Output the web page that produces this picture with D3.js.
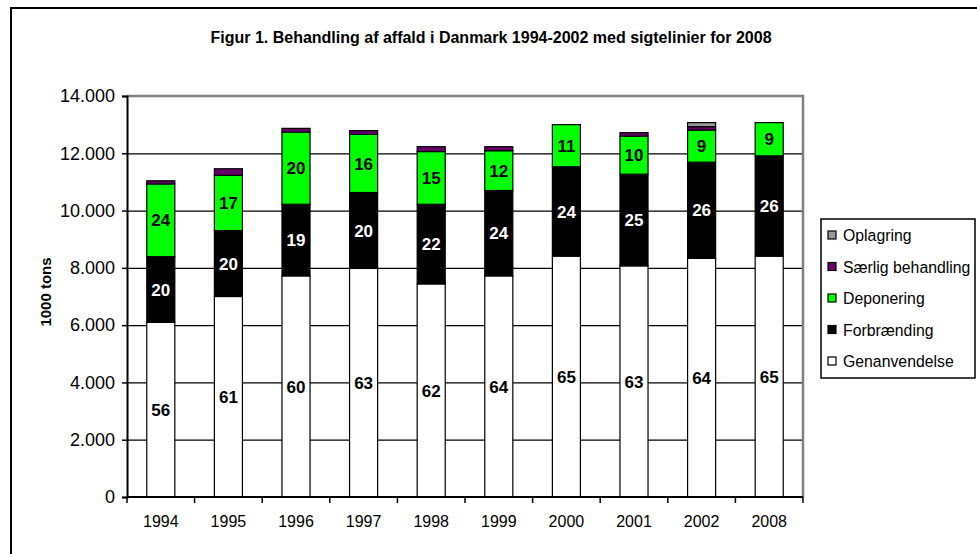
<!DOCTYPE html>
<html>
<head>
<meta charset="utf-8">
<script src="https://cdn.jsdelivr.net/npm/d3@7"></script>
<style>
  body { margin: 0; background: #fff; }
  svg { display: block; font-family: Arial, "Liberation Sans", sans-serif; }
</style>
</head>
<body>
<svg id="chart"></svg>
<script>
// years on the x axis
const years = ["1994", "1995", "1996", "1997", "1998", "1999", "2000", "2001", "2002", "2008"];

// 1000 tons per treatment
const genanvendelse = [6100, 7000, 7720, 7980, 7440, 7720, 8410, 8070, 8330, 8410];
const forbraending = [2290, 2300, 2500, 2650, 2780, 2980, 3120, 3200, 3360, 3500];
const deponering = [2540, 1930, 2520, 2030, 1840, 1390, 1470, 1330, 1120, 1160];
const saerlig = [110, 230, 130, 130, 170, 140, 0, 120, 120, 0];
const oplagring = [0, 0, 0, 0, 0, 0, 0, 0, 140, 0];

// percent labels printed in the segments
const pctGen = [56, 61, 60, 63, 62, 64, 65, 63, 64, 65];
const pctForb = [20, 20, 19, 20, 22, 24, 24, 25, 26, 26];
const pctDep = [24, 17, 20, 16, 15, 12, 11, 10, 9, 9];

const yTicks = [0, 2000, 4000, 6000, 8000, 10000, 12000, 14000];

const seriesNames = ["Genanvendelse", "Forbrænding", "Deponering", "Særlig behandling", "Oplagring"];
const seriesColors = ["#ffffff", "#000000", "#00ff00", "#660066", "#999999"];

const width = 977, height = 554;
const plot = { left: 127, top: 96, right: 803, bottom: 497 };

const svg = d3.select("#chart").attr("width", width).attr("height", height);

// outer frame (runs past the right and bottom edge)
svg.append("rect")
  .attr("x", 11).attr("y", 8)
  .attr("width", 1000).attr("height", 600)
  .attr("fill", "#fff").attr("stroke", "#000").attr("stroke-width", 2);

svg.append("text")
  .attr("x", 491).attr("y", 43)
  .attr("text-anchor", "middle")
  .attr("font-weight", "bold")
  .attr("font-size", 16)
  .text("Figur 1. Behandling af affald i Danmark 1994-2002 med sigtelinier for 2008");

const rows = years.map((yr, i) => ({
  year: yr,
  "Genanvendelse": genanvendelse[i],
  "Forbrænding": forbraending[i],
  "Deponering": deponering[i],
  "Særlig behandling": saerlig[i],
  "Oplagring": oplagring[i]
}));

const x = d3.scaleBand()
  .domain(years)
  .range([plot.left, plot.right])
  .paddingInner(0.585)
  .paddingOuter(0.2925);

const y = d3.scaleLinear()
  .domain([0, 14000])
  .range([plot.bottom, plot.top]);

const color = d3.scaleOrdinal().domain(seriesNames).range(seriesColors);

const dk = d3.formatLocale({ decimal: ",", thousands: ".", grouping: [3], currency: ["", ""] });
const fmt = dk.format(",");

// gridlines
svg.append("g")
  .attr("transform", `translate(${plot.left},0)`)
  .call(d3.axisLeft(y).tickValues(yTicks.slice(1)).tickSize(-(plot.right - plot.left)).tickFormat(""))
  .call(g => g.select(".domain").remove())
  .call(g => g.selectAll("line").attr("stroke", "#000").attr("stroke-width", 1.2));

// plot area border (gray on top and right)
svg.append("path")
  .attr("d", `M${plot.left},${plot.top}H${plot.right}V${plot.bottom}`)
  .attr("fill", "none")
  .attr("stroke", "#808080")
  .attr("stroke-width", 2.5);

const stacked = d3.stack().keys(seriesNames)(rows);

svg.append("g")
  .selectAll("g")
  .data(stacked)
  .join("g")
  .attr("fill", d => color(d.key))
  .selectAll("rect")
  .data(d => d.filter(s => s[1] > s[0]))
  .join("rect")
  .attr("x", d => x(d.data.year))
  .attr("width", x.bandwidth())
  .attr("y", d => y(d[1]))
  .attr("height", d => y(d[0]) - y(d[1]))
  .attr("stroke", "#000")
  .attr("stroke-width", 1.2);

// percent labels in the middle of the three main segments
const labelSets = [
  { idx: 0, vals: pctGen, fill: "#000" },
  { idx: 1, vals: pctForb, fill: "#fff" },
  { idx: 2, vals: pctDep, fill: "#000" }
];
labelSets.forEach(ls => {
  svg.append("g")
    .selectAll("text")
    .data(stacked[ls.idx])
    .join("text")
    .attr("x", d => x(d.data.year) + x.bandwidth() / 2)
    .attr("y", d => y((d[0] + d[1]) / 2))
    .attr("dy", "0.36em")
    .attr("text-anchor", "middle")
    .attr("font-weight", "bold")
    .attr("font-size", 17)
    .attr("fill", ls.fill)
    .text((d, i) => ls.vals[i]);
});

// y axis
svg.append("g")
  .attr("transform", `translate(${plot.left},0)`)
  .call(d3.axisLeft(y).tickValues(yTicks).tickSize(5).tickPadding(7).tickFormat(fmt))
  .call(g => g.select(".domain").attr("stroke-width", 2))
  .call(g => g.selectAll("line").attr("stroke-width", 1.5))
  .call(g => g.selectAll("text").attr("font-size", 18).attr("font-family", "Arial, 'Liberation Sans', sans-serif").attr("fill", "#000"));

// x axis: ticks on the category boundaries
const gap = (x.step() - x.bandwidth()) / 2;
const boundaries = years.map(yr => x(yr) - gap).concat([x(years[years.length - 1]) + x.bandwidth() + gap]);
const xAxis = svg.append("g");
xAxis.append("line")
  .attr("x1", plot.left).attr("x2", plot.right)
  .attr("y1", plot.bottom).attr("y2", plot.bottom)
  .attr("stroke", "#000").attr("stroke-width", 2);
xAxis.selectAll(".tick")
  .data(boundaries)
  .join("line")
  .attr("x1", d => d).attr("x2", d => d)
  .attr("y1", plot.bottom).attr("y2", plot.bottom + 6)
  .attr("stroke", "#000").attr("stroke-width", 1.5);
xAxis.selectAll("text")
  .data(years)
  .join("text")
  .attr("x", d => x(d) + x.bandwidth() / 2)
  .attr("y", 527)
  .attr("text-anchor", "middle")
  .attr("font-size", 16)
  .text(d => d);

// y axis title
svg.append("text")
  .attr("transform", "translate(51,292) rotate(-90)")
  .attr("text-anchor", "middle")
  .attr("font-weight", "bold")
  .attr("font-size", 15)
  .text("1000 tons");

// legend
const legend = svg.append("g");
legend.append("rect")
  .attr("x", 821).attr("y", 219)
  .attr("width", 154).attr("height", 159)
  .attr("fill", "#fff").attr("stroke", "#000").attr("stroke-width", 1.5);

const legendOrder = seriesNames.slice().reverse();
const item = legend.selectAll(".item")
  .data(legendOrder)
  .join("g")
  .attr("transform", (d, i) => `translate(0,${235 + i * 31.5})`);
item.append("rect")
  .attr("x", 828).attr("y", -4)
  .attr("width", 8).attr("height", 8)
  .attr("fill", d => color(d))
  .attr("stroke", "#000").attr("stroke-width", 1.2);
item.append("text")
  .attr("transform", "translate(843,0) scale(0.93,1)")
  .attr("dy", "0.36em")
  .attr("font-size", 17)
  .text(d => d);
</script>
</body>
</html>
